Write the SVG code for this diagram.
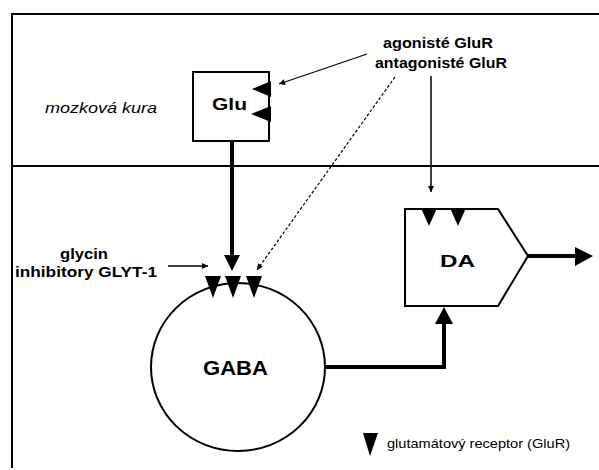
<svg xmlns="http://www.w3.org/2000/svg" width="599" height="470" viewBox="0 0 599 470">
<defs>
<style>
.ln{stroke:#000;fill:none}
.shape{fill:#fff;stroke:#000;stroke-width:2}
.rec{fill:#000;stroke:none}
.lbl{font-family:"Liberation Sans",Arial,sans-serif;font-weight:bold;fill:#000}
.reg{font-family:"Liberation Sans",Arial,sans-serif;fill:#000}
</style>
<marker id="ah" viewBox="0 0 10 10" refX="10" refY="5" markerWidth="8" markerHeight="6" markerUnits="userSpaceOnUse" orient="auto">
<path d="M0,0 L10,5 L0,10 z" fill="#000"/>
</marker>
</defs>
<rect width="599" height="470" fill="#fff"/>
<g id="frame">
<path class="ln" stroke-width="2" d="M12,468 V14 H599"/>
<path class="ln" stroke-width="2" d="M12,166 H599"/>
<text class="reg" x="45" y="113" font-size="15" font-style="italic" textLength="112" lengthAdjust="spacingAndGlyphs">mozková kura</text>
</g>
<g id="glu">
<rect class="shape" x="193" y="72" width="76" height="69"/>
<polygon class="rec" points="252,89 271,81 271,97"/>
<polygon class="rec" points="251,114 271,106 271,122"/>
<text class="lbl" x="212" y="110" font-size="16" textLength="35" lengthAdjust="spacingAndGlyphs">Glu</text>
</g>
<g id="gaba">
<ellipse class="shape" cx="238" cy="367" rx="87" ry="84" stroke-width="2.2"/>
<polygon class="rec" points="205,276 221,276 213,298"/>
<polygon class="rec" points="225,276 241,276 233,298"/>
<polygon class="rec" points="246,276 262,276 254,298"/>
<text class="lbl" x="203" y="375" font-size="21" textLength="65" lengthAdjust="spacingAndGlyphs">GABA</text>
</g>
<g id="da">
<polygon class="shape" points="405,209 498,209 528,256 498,306 405,306"/>
<polygon class="rec" points="421,208 437,208 429,226"/>
<polygon class="rec" points="450,208 466,208 458,226"/>
<text class="lbl" x="440" y="267" font-size="17" textLength="35" lengthAdjust="spacingAndGlyphs">DA</text>
</g>
<g id="labels">
<text class="lbl" x="383" y="48" font-size="15" textLength="110" lengthAdjust="spacingAndGlyphs">agonisté GluR</text>
<text class="lbl" x="375" y="68" font-size="15" textLength="132" lengthAdjust="spacingAndGlyphs">antagonisté GluR</text>
<text class="lbl" x="60" y="259" font-size="15" textLength="48" lengthAdjust="spacingAndGlyphs">glycin</text>
<text class="lbl" x="15" y="277" font-size="15" textLength="142" lengthAdjust="spacingAndGlyphs">inhibitory GLYT-1</text>
</g>
<g id="legend">
<polygon class="rec" points="363,433 378,433 370,456"/>
<text class="reg" x="387" y="448" font-size="13" textLength="183" lengthAdjust="spacingAndGlyphs">glutamátový receptor (GluR)</text>
</g>
<g id="connectors">
<path class="ln" stroke-width="4" d="M232,141 V257"/>
<polygon class="rec" points="224,255 240,255 232,271"/>
<path class="ln" stroke-width="4" d="M325,367 H444 V322"/>
<polygon class="rec" points="435,324 453,324 444,307"/>
<path class="ln" stroke-width="4" d="M528,256 H577"/>
<polygon class="rec" points="575,247 593,256 575,266"/>
<path class="ln" stroke-width="1.2" d="M367,54 L279,84" marker-end="url(#ah)"/>
<path class="ln" stroke-width="1.2" stroke-dasharray="3,2" d="M395,77 L257,270" marker-end="url(#ah)"/>
<path class="ln" stroke-width="1.5" d="M431,76 V192" marker-end="url(#ah)"/>
<path class="ln" stroke-width="1.5" d="M168,266 L208,266" marker-end="url(#ah)"/>
</g>
</svg>
